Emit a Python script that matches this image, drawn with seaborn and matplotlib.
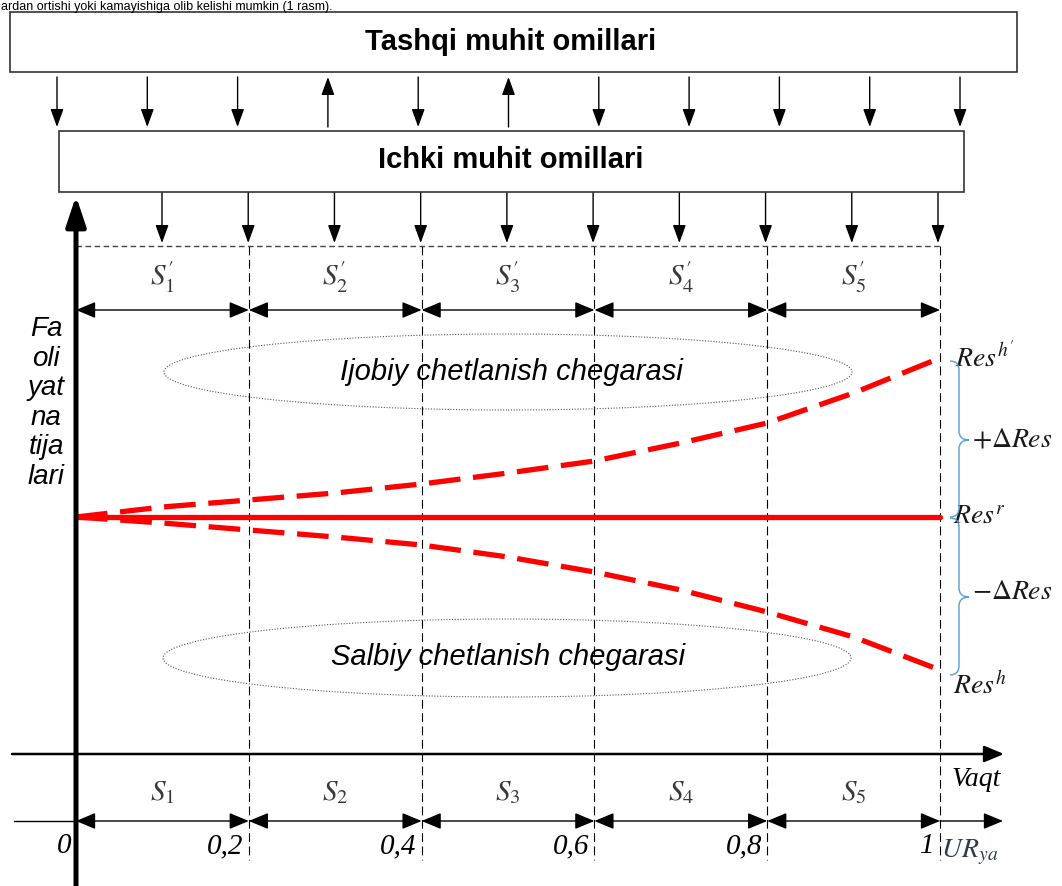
import numpy as np
import pandas as pd
import seaborn as sns
import matplotlib
matplotlib.use("Agg")
import matplotlib.pyplot as plt
from matplotlib.patches import Rectangle, Ellipse, FancyArrowPatch, PathPatch
from matplotlib.path import Path

# ---------------- data ----------------
ur_x = [0.0, 0.1, 0.2, 0.3, 0.4, 0.5, 0.6, 0.7, 0.8, 0.9, 1.0]
res_upper = [0.0, 0.10, 0.17, 0.24, 0.33, 0.44, 0.56, 0.74, 0.94, 1.24, 1.59]
res_lower = [0.0, -0.06, -0.13, -0.20, -0.28, -0.40, -0.55, -0.73, -0.95, -1.20, -1.53]
plan_x = [0.0, 1.0]
res_plan = [0.0, 0.0]

ur_ticks = [0.0, 0.2, 0.4, 0.6, 0.8, 1.0]
ur_tick_labels = ["0", "0,2", "0,4", "0,6", "0,8", "1"]
stage_labels = [r"$S_{1}$", r"$S_{2}$", r"$S_{3}$", r"$S_{4}$", r"$S_{5}$"]
stage_labels_ext = [r"$S_{1}^{\prime}$", r"$S_{2}^{\prime}$", r"$S_{3}^{\prime}$",
                    r"$S_{4}^{\prime}$", r"$S_{5}^{\prime}$"]
outer_box_title = "Tashqi muhit omillari"
inner_box_title = "Ichki muhit omillari"
outer_arrow_dirs = ["down", "down", "down", "up", "down", "up",
                    "down", "down", "down", "down", "down"]
y_label_text = "Fa\noli\nyat\nna\ntija\nlari"
positive_zone = "Ijobiy chetlanish chegarasi"
negative_zone = "Salbiy chetlanish chegarasi"
top_text = "ardan ortishi yoki kamayishiga olib kelishi mumkin (1 rasm)."

# ---------------- layout (pixels of the 1062x886 canvas) ----------------
W, H = 1062, 886
PX0, PX_PER_UR = 76, 864
PY0, PY_PER_RES = 517, 100


def X(px):
    return (px - PX0) / PX_PER_UR


def Y(py):
    return (PY0 - py) / PY_PER_RES


sns.set_style("white")
plt.rcParams["font.family"] = ["Liberation Sans", "DejaVu Sans"]
plt.rcParams["mathtext.fontset"] = "stix"
plt.rcParams["text.color"] = "black"

fig = plt.figure(figsize=(W / 100, H / 100), dpi=100)
ax = fig.add_axes([0, 0, 1, 1])
ax.set_xlim(X(0), X(W))
ax.set_ylim(Y(H), Y(0))
ax.axis("off")


def arrow(p1, p2, style="-|>", lw=1.0, ms=20, hl=0.55, hw=0.2, color="black", z=3):
    a = FancyArrowPatch(p1, p2, arrowstyle=f"{style},head_length={hl},head_width={hw}",
                        mutation_scale=ms, lw=lw, color=color, shrinkA=0, shrinkB=0,
                        zorder=z)
    ax.add_patch(a)


# top text line (shrunk so that it fits above the first box)
ax.text(X(1), Y(10), top_text, fontsize=9, ha="left", va="baseline", color="black")

# outer box
ax.add_patch(Rectangle((X(10), Y(72)), (1017 - 10) / PX_PER_UR, (72 - 12) / PY_PER_RES,
                       fill=False, lw=1.2, ec="#333333", zorder=2))
ax.text(X(511), Y(42), outer_box_title, fontsize=21, fontweight="bold",
        ha="center", va="center")

# outer arrows
outer_arrow_px = np.linspace(57, 960, len(outer_arrow_dirs))
for px, d in zip(outer_arrow_px, outer_arrow_dirs):
    if d == "down":
        arrow((X(px), Y(77)), (X(px), Y(127)))
    else:
        arrow((X(px), Y(127)), (X(px), Y(77)))

# inner box
ax.add_patch(Rectangle((X(59), Y(192)), (964 - 59) / PX_PER_UR, (192 - 131) / PY_PER_RES,
                       fill=False, lw=1.2, ec="#333333", zorder=2))
ax.text(X(511), Y(160), inner_box_title, fontsize=21, fontweight="bold",
        ha="center", va="center")

# inner arrows
inner_arrow_px = np.linspace(162, 938, 10)
for px in inner_arrow_px:
    arrow((X(px), Y(193)), (X(px), Y(243)))

# dashed top boundary
ax.plot([ur_ticks[0], ur_ticks[-1]], [Y(246), Y(246)], color="#444444", lw=1.0,
        linestyle=(0, (4, 2.5)), zorder=2)

# vertical dashed segment boundaries
for t in ur_ticks[1:]:
    ax.plot([t, t], [Y(246), Y(860)], color="black", lw=0.8,
            linestyle=(0, (8, 4)), zorder=1)

# segment double arrows (top and bottom) and stage labels
for i in range(len(ur_ticks) - 1):
    a, b = ur_ticks[i], ur_ticks[i + 1]
    arrow((a, Y(310)), (b, Y(310)), style="<|-|>", lw=1.0, hl=0.6, hw=0.25)
    arrow((a, Y(821)), (b, Y(821)), style="<|-|>", lw=1.0, hl=0.6, hw=0.25)
    mid = (a + b) / 2
    ax.text(mid, Y(277), stage_labels_ext[i], fontsize=21, ha="center", va="center",
            color="#3a3a3a")
    ax.text(mid, Y(792), stage_labels[i], fontsize=21, ha="center", va="center",
            color="#3a3a3a")

# bottom line extensions
ax.plot([X(14), 0], [Y(821), Y(821)], color="black", lw=1.0, zorder=2)
arrow((1.0, Y(821)), (X(1003), Y(821)), lw=1.0, hl=0.6, hw=0.25)

# tick labels
for t, lab in zip(ur_ticks, ur_tick_labels):
    ax.text(t - 5 / PX_PER_UR, Y(846), lab, fontsize=21, ha="right", va="center",
            family="Liberation Serif", style="italic")
ax.text(X(941), Y(852), r"$\mathbf{\mathit{UR}}_{\mathbf{\mathit{ya}}}$", fontsize=20,
        ha="left", va="center", color="#2f3b4c")
ax.text(X(976), Y(780), "Vaqt", fontsize=20, ha="center", va="center",
        family="Liberation Serif", style="italic")

# x axis (time)
arrow((X(12), Y(754)), (X(1004), Y(754)), lw=1.8, hl=0.6, hw=0.25)

# y axis (thick)
arrow((0.0, Y(886)), (0.0, Y(196)), lw=3.6, ms=20, hl=0.9, hw=0.3, z=6)
ax.text(X(46), Y(403), y_label_text, fontsize=20, style="italic", ha="center",
        va="center", linespacing=1.17)

# ellipses with zone texts
ax.add_patch(Ellipse((X(508), Y(372)), 688 / PX_PER_UR, 76 / PY_PER_RES, fill=False,
                     ec="#555555", lw=0.8, linestyle=(0, (1, 1.5)), zorder=2))
ax.text(X(511), Y(372), positive_zone, fontsize=21, style="italic",
        ha="center", va="center")
ax.add_patch(Ellipse((X(507), Y(658)), 688 / PX_PER_UR, 78 / PY_PER_RES, fill=False,
                     ec="#555555", lw=0.8, linestyle=(0, (1, 1.5)), zorder=2))
ax.text(X(508), Y(657), negative_zone, fontsize=21, style="italic",
        ha="center", va="center")

# result lines
sns.lineplot(x=plan_x, y=res_plan, ax=ax, color="#ff0000", lw=3.8, zorder=5)
sns.lineplot(x=ur_x, y=res_upper, ax=ax, color="#ff0000", lw=3.8,
             linestyle=(0, (6, 2.4)), zorder=5, sort=False)
sns.lineplot(x=ur_x, y=res_lower, ax=ax, color="#ff0000", lw=3.8,
             linestyle=(0, (6, 2.4)), zorder=5, sort=False)


# curly braces
def brace(top, mid, bot, xv=959, xo=950, xt=969, r=9):
    verts = [(xo, top), (xv, top), (xv, top + r),
             (xv, mid - r), (xv, mid), (xt, mid),
             (xv, mid), (xv, mid + r),
             (xv, bot - r), (xv, bot), (xo, bot)]
    codes = [Path.MOVETO, Path.CURVE3, Path.CURVE3,
             Path.LINETO, Path.CURVE3, Path.CURVE3,
             Path.CURVE3, Path.CURVE3,
             Path.LINETO, Path.CURVE3, Path.CURVE3]
    verts = [(X(a), Y(b)) for a, b in verts]
    ax.add_patch(PathPatch(Path(verts, codes), fill=False, ec="#5b9bd5", lw=1.0, zorder=4))


brace(361, 440, 517)
brace(518, 597, 675)

res_kw = dict(fontsize=20, color="#1a1a1a", va="center")
ax.text(X(955), Y(358), r"$Res^{h^{\prime}}$", ha="left", **res_kw)
ax.text(X(972), Y(440), r"$+\Delta Res$", ha="left", **res_kw)
ax.text(X(953), Y(517), r"$Res^{r}$", ha="left", **res_kw)
ax.text(X(972), Y(592), r"$-\Delta Res$", ha="left", **res_kw)
ax.text(X(953), Y(686), r"$Res^{h}$", ha="left", **res_kw)

fig.savefig("out.png", dpi=100)
